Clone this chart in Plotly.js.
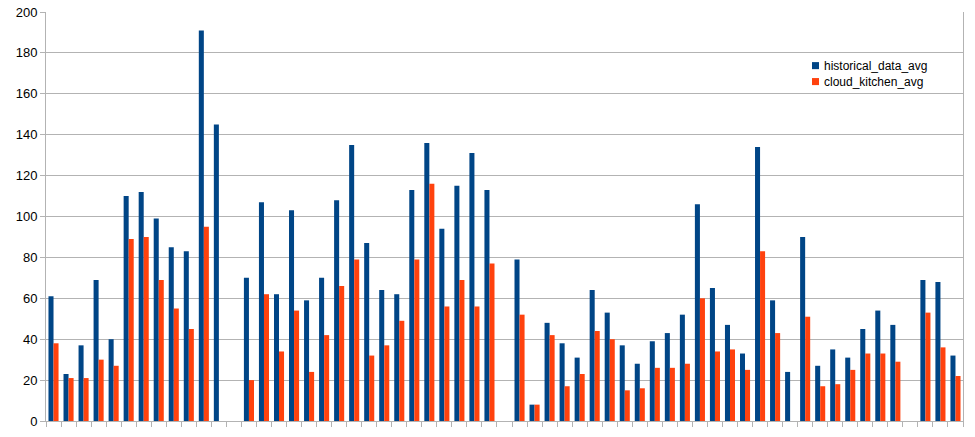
<!DOCTYPE html>
<html>
<head>
<meta charset="utf-8">
<script src="https://cdn.plot.ly/plotly-3.0.1.min.js"></script>
<style>html,body{margin:0;padding:0;background:#fff;}#chart{width:975px;height:437px;}</style>
</head>
<body>
<div id="chart"></div>
<script>
const categories = Array.from({length: 61}, (_, i) => String(i + 1));
const historicalDataAvg = [61,23,37,69,40,110,112,99,85,83,191,145,null,70,107,62,103,59,70,108,135,87,64,62,113,136,94,115,131,113,null,79,8,48,38,31,64,53,37,28,39,43,52,106,65,47,33,134,59,24,90,27,35,31,45,54,47,null,69,68,32];
const cloudKitchenAvg = [38,21,21,30,27,89,90,69,55,45,95,null,null,20,62,34,54,24,42,66,79,32,37,49,79,116,56,69,56,77,null,52,8,42,17,23,44,40,15,16,26,26,28,60,34,35,25,83,43,null,51,17,18,25,33,33,29,null,53,36,22];
const seriesNames = ["historical_data_avg", "cloud_kitchen_avg"];
const seriesColors = ['#004586', '#ff420e'];
const yTicks = [0,20,40,60,80,100,120,140,160,180,200];

const data = [
  {type: 'bar', name: seriesNames[0], x: categories, y: historicalDataAvg, marker: {color: seriesColors[0]}, showlegend: false},
  {type: 'bar', name: seriesNames[1], x: categories, y: cloudKitchenAvg, marker: {color: seriesColors[1]}, showlegend: false}
];

// Legend drawn as small squares + text (LibreOffice-style compact legend)
const legendRows = [0.869, 0.830];
const annotations = seriesNames.map((n, i) => ({
  xref: 'paper', yref: 'paper', x: 0.8484, y: legendRows[i], xanchor: 'left', yanchor: 'middle',
  xshift: -2, text: n, showarrow: false, font: {size: 12, color: '#000'}
}));
const shapes = seriesNames.map((n, i) => ({
  type: 'rect', xref: 'paper', yref: 'paper',
  x0: 0.8353, x1: 0.8430, y0: legendRows[i] - 0.0087, y1: legendRows[i] + 0.0085,
  fillcolor: seriesColors[i], line: {width: 0}
}));

const layout = {
  width: 975, height: 437,
  margin: {l: 46, r: 12, t: 12, b: 16},
  paper_bgcolor: '#fff', plot_bgcolor: '#fff',
  barmode: 'group', bargap: 0.33, bargroupgap: 0,
  font: {family: 'Liberation Sans, Arial, sans-serif', size: 13, color: '#000'},
  xaxis: {type: 'category', showticklabels: false, ticks: 'outside', tickson: 'boundaries', ticklen: 5, tickcolor: '#b3b3b3', showline: true, linecolor: '#b3b3b3', showgrid: false, zeroline: false},
  yaxis: {range: [0, 200], tickvals: yTicks, ticks: 'outside', ticklen: 5, tickcolor: '#b3b3b3', showline: true, mirror: true, linecolor: '#b3b3b3', gridcolor: '#b3b3b3', zeroline: false, tickfont: {size: 13, color: '#000'}},
  annotations: annotations,
  shapes: shapes,
  showlegend: false
};
Plotly.newPlot('chart', data, layout, {displayModeBar: false, staticPlot: true});
</script>
</body>
</html>
